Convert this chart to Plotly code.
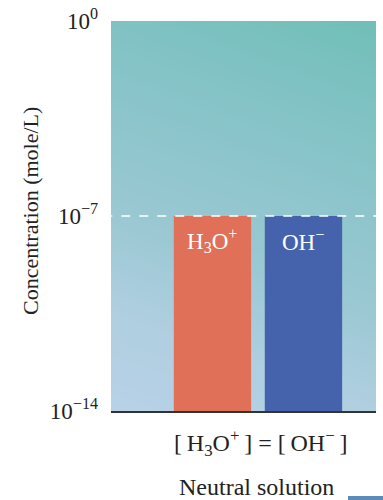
import plotly.graph_objects as go
import numpy as np

# Data
ions = ["H₃O⁺", "OH⁻"]
ion_labels = ["H<sub>3</sub>O<sup>+</sup>", "OH<sup>−</sup>"]
concentrations = [1e-7, 1e-7]
bar_colors = ["#e07058", "#4563ad"]
tick_vals = [1e0, 1e-7, 1e-14]
tick_text = ["10<sup>0</sup>", "10<sup>−7</sup>", "10<sup>−14</sup>"]
neutral_level = 1e-7

W, H = 383, 500
PX0, PY0 = 111, 21      # plot area top-left
PW, PH = 265, 390        # plot area size
L, T = PX0, PY0
R = W - L - PW
B = H - T - PH


def px(X):
    return (X - PX0) / PW


def py(Y):
    return (PY0 + PH - Y) / PH


fig = go.Figure()

# Background gradient (styling) on hidden linear axes
n = 60
gx = np.linspace(0, 1, n)
gy = np.linspace(0, 1, n)
GX, GY = np.meshgrid(gx, gy)
Z = 0.8 * GY + 0.2 * GX
fig.add_trace(go.Heatmap(
    x=gx, y=gy, z=Z, xaxis="x", yaxis="y", zmin=0, zmax=1,
    colorscale=[[0, "#b8d1e7"], [0.2, "#b0cfe1"], [0.4, "#9bc8d3"],
                [0.8, "#80c2c4"], [1, "#70bfb7"]],
    showscale=False, hoverinfo="skip", zsmooth="best",
))

# Dashed neutral line
fig.add_trace(go.Scatter(
    x=[-1.2, 1.9], y=[neutral_level, neutral_level], xaxis="x2", yaxis="y2",
    mode="lines", line=dict(color="white", dash="dash", width=1.5),
    hoverinfo="skip", showlegend=False,
))

# Bars
fig.add_trace(go.Bar(
    x=[0, 1], y=concentrations, base=[1e-14, 1e-14], xaxis="x2", yaxis="y2",
    width=0.85, marker=dict(color=bar_colors, line=dict(width=0)),
    showlegend=False, hoverinfo="skip",
))

serif = "Liberation Serif"
annotations = []
for i, (lab, c) in enumerate(zip(ion_labels, concentrations)):
    annotations.append(dict(
        text=lab, x=i, y=np.log10(c), xref="x2", yref="y2",
        xanchor="center", yanchor="middle", yshift=-24, showarrow=False,
        font=dict(family=serif, size=23, color="white")))

annotations += [
    dict(text="Concentration (mole/L)", xref="paper", yref="paper",
         x=px(30), y=py(211), textangle=-90, xanchor="center", yanchor="middle",
         showarrow=False, font=dict(family=serif, size=22, color="#222222")),
    dict(text="[\u2009H<sub>3</sub>O<sup>+</sup>\u2009] = [\u2009OH<sup>−</sup>\u2009]",
         xref="paper", yref="paper", x=px(260), y=py(443),
         xanchor="center", yanchor="middle", showarrow=False,
         font=dict(family=serif, size=24, color="#222222")),
    dict(text="Neutral solution", xref="paper", yref="paper",
         x=px(256), y=py(487), xanchor="center", yanchor="middle", showarrow=False,
         font=dict(family=serif, size=24, color="#222222")),
]

fig.update_layout(
    width=W, height=H,
    margin=dict(l=L, r=R, t=T, b=B, autoexpand=False),
    paper_bgcolor="white",
    plot_bgcolor="rgba(0,0,0,0)",
    showlegend=False,
    xaxis=dict(range=[0, 1], visible=False, fixedrange=True),
    yaxis=dict(range=[0, 1], visible=False, fixedrange=True),
    xaxis2=dict(overlaying="x", range=[-1.115, 1.797], showticklabels=False,
                showgrid=False, zeroline=False, ticks="",
                showline=True, linecolor="#333333", linewidth=1.5),
    yaxis2=dict(overlaying="y", type="log", range=[-14, 0.0001],
                tickvals=tick_vals, ticktext=tick_text, ticks="", ticklabelstandoff=12,
                ticklabeloverflow="allow",
                showgrid=False, zeroline=False, showline=False,
                tickfont=dict(family=serif, size=23, color="#222222")),
    annotations=annotations,
    shapes=[
        dict(type="rect", xref="paper", yref="paper",
             x0=px(348), x1=px(383), y0=py(496), y1=py(503),
             fillcolor="#5b8bb8", line=dict(width=0)),
    ],
)

fig.write_html(
    "out.html",
    config={"displayModeBar": False},
    post_script="document.body.style.margin='0';document.body.style.overflow='hidden';",
)
